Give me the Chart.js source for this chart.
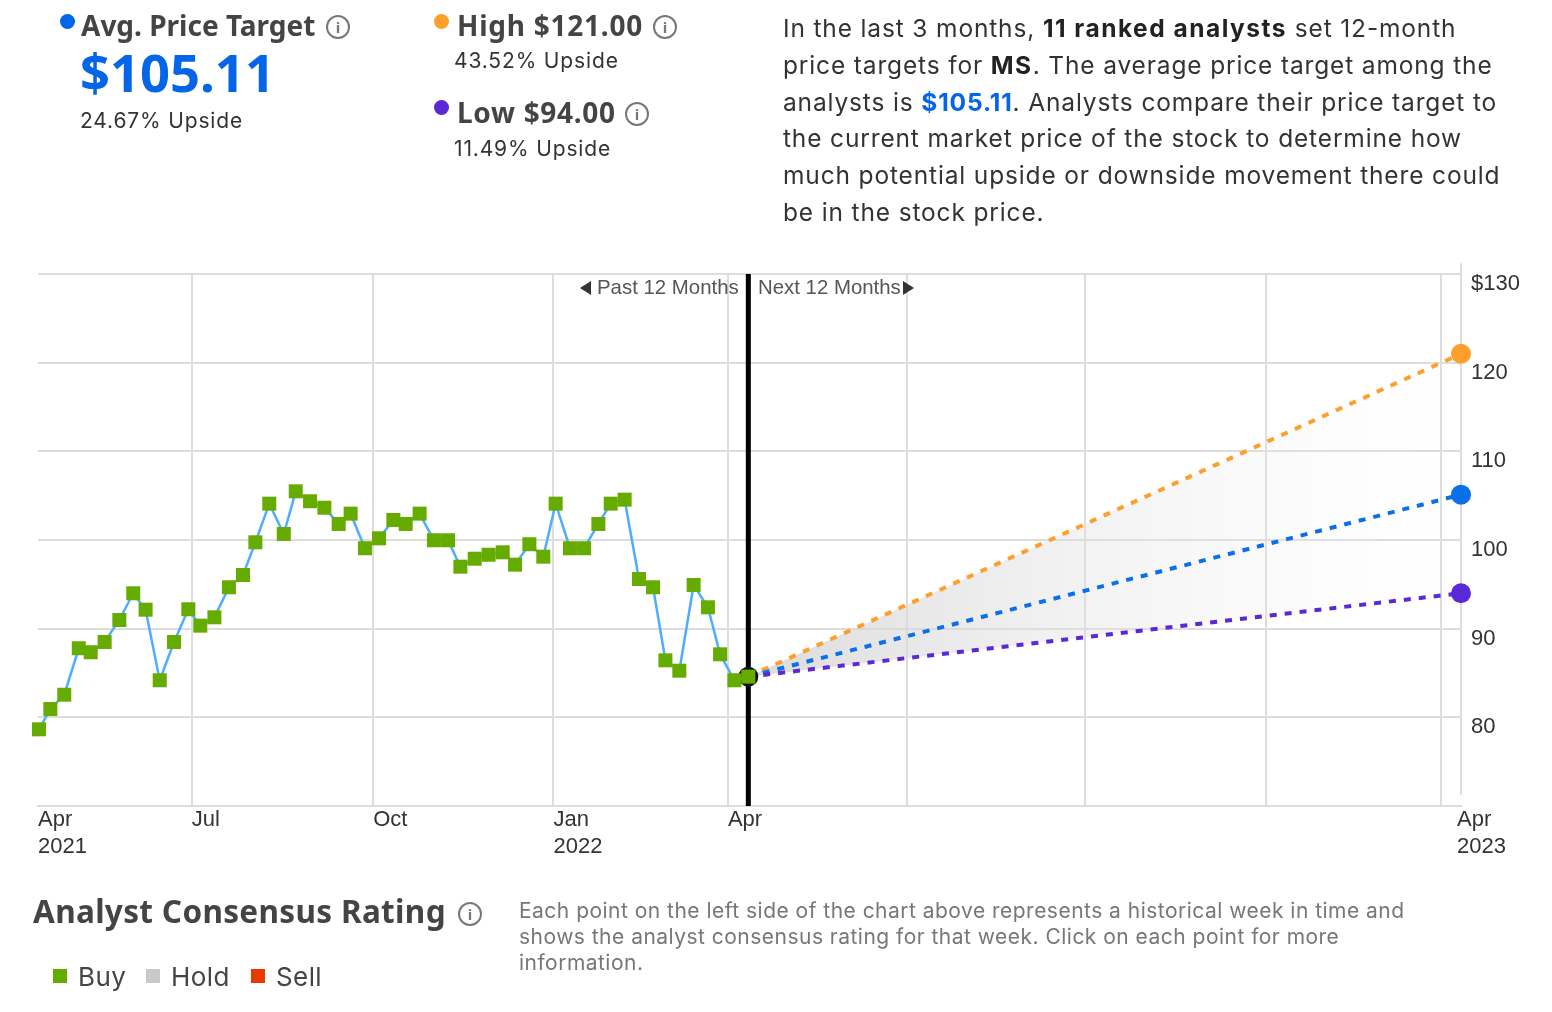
<!DOCTYPE html>
<html>
<head>
<meta charset="utf-8">
<title>MS price targets</title>
<script src="https://cdn.jsdelivr.net/npm/chart.js@4"></script>
<style>
  html, body { margin: 0; padding: 0; background: #fff; }
  #page { position: relative; width: 1552px; height: 1012px; overflow: hidden; font-family: Inter, sans-serif; color: #333; }
  #page canvas { position: absolute; left: 0; top: 0; }
  .txt { position: absolute; white-space: nowrap; }
  .head { font-family: "Noto Sans", sans-serif; font-weight: 700; font-size: 28px; color: #444; line-height: 32px; }
  .sub { font-size: 21px; line-height: 26px; color: #333; letter-spacing: .85px; }
  .dot { position: absolute; width: 15px; height: 15px; border-radius: 50%; }
  .info { position: absolute; width: 20px; height: 20px; border: 2px solid #777; border-radius: 50%; color: #777; font: 700 15px/20px "Noto Sans", sans-serif; text-align: center; }
  .swatch { position: absolute; width: 14px; height: 14px; }
  .chartnote { font-family: "Liberation Sans", sans-serif; font-size: 20.4px; color: #555; line-height: 24px; }
  .tri { position: absolute; width: 0; height: 0; border-top: 7px solid transparent; border-bottom: 7px solid transparent; }
  .legend { font-size: 26px; line-height: 33px; color: #444; letter-spacing: .4px; }
  b.blue { color: #0465e8; }
  b.dark { color: #222; letter-spacing: 1.5px; }
</style>
</head>
<body>
<div id="page">
  <canvas id="price-chart" width="1552" height="1012"></canvas>

  <span class="dot" style="left:60px;top:14px;background:#0465e8"></span>
  <div class="txt head" style="left:81px;top:9px">Avg. Price Target</div>
  <span class="info" style="left:326px;top:15px">i</span>
  <div class="txt" style="left:80px;top:44px;font-family:'Noto Sans',sans-serif;font-weight:700;font-size:52.5px;line-height:56px;color:#0465e8">$105.11</div>
  <div class="txt sub" style="left:80px;top:108px">24.67% Upside</div>

  <span class="dot" style="left:434px;top:14px;background:#ff9f2b"></span>
  <div class="txt head" style="left:457px;top:9px;letter-spacing:.75px">High $121.00</div>
  <span class="info" style="left:653px;top:15px">i</span>
  <div class="txt sub" style="left:454px;top:48px">43.52% Upside</div>

  <span class="dot" style="left:434px;top:100px;background:#5a28d6"></span>
  <div class="txt head" style="left:457px;top:96px;letter-spacing:.7px">Low $94.00</div>
  <span class="info" style="left:625px;top:102px">i</span>
  <div class="txt sub" style="left:454px;top:136px">11.49% Upside</div>

  <div class="txt" style="left:783px;top:10px;font-size:24.5px;line-height:36.8px;color:#333;letter-spacing:.85px">
    In the last 3 months, <b class="dark">11 ranked analysts</b> set 12-month<br>
    price targets for <b class="dark">MS</b>. The average price target among the<br>
    analysts is <b class="blue">$105.11</b>. Analysts compare their price target to<br>
    the current market price of the stock to determine how<br>
    much potential upside or downside movement there could<br>
    be in the stock price.
  </div>

  <span class="tri" style="left:580px;top:281px;border-right:11px solid #333"></span>
  <div class="txt chartnote" style="left:597px;top:275px">Past 12 Months</div>
  <div class="txt chartnote" style="left:758px;top:275px">Next 12 Months</div>
  <span class="tri" style="left:903px;top:281px;border-left:11px solid #333"></span>

  <div class="txt" style="left:33px;top:892px;font-family:'Noto Sans',sans-serif;font-weight:700;font-size:31.5px;line-height:38px;color:#444;letter-spacing:.33px">Analyst Consensus Rating</div>
  <span class="info" style="left:458px;top:902px">i</span>
  <div class="txt" style="left:519px;top:898px;font-size:21px;line-height:26px;color:#777;letter-spacing:.48px">
    Each point on the left side of the chart above represents a historical week in time and<br>
    shows the analyst consensus rating for that week. Click on each point for more<br>
    information.
  </div>

  <span class="swatch" style="left:53px;top:969px;background:#65ab00"></span>
  <div class="txt legend" style="left:78px;top:960px">Buy</div>
  <span class="swatch" style="left:146px;top:969px;background:#c8c8c8"></span>
  <div class="txt legend" style="left:171px;top:960px">Hold</div>
  <span class="swatch" style="left:251px;top:969px;background:#e63a00"></span>
  <div class="txt legend" style="left:276px;top:960px">Sell</div>
</div>

<script>
// weekly consensus price, days counted from the left edge of the axis
const historyDays = [0.5, 6.3, 13.4, 20.8, 26.9, 34.0, 41.5, 48.6, 54.9, 62.1, 69.4, 76.7, 82.8, 90.0, 97.4, 104.6, 110.9, 118.0, 125.4, 131.5, 138.8, 146.1, 153.4, 159.5, 166.8, 174.0, 181.3, 187.6, 194.7, 202.0, 209.2, 215.5, 222.8, 229.9, 237.1, 243.4, 250.7, 257.8, 264.1, 271.4, 278.6, 285.9, 292.2, 299.3, 306.6, 313.8, 320.1, 327.2, 334.5, 341.8, 348.0, 355.3, 362.4];
const historyPrices = [78.65, 80.94, 82.55, 87.79, 87.34, 88.5, 90.98, 93.99, 92.14, 84.18, 88.5, 92.19, 90.34, 91.28, 94.67, 96.05, 99.74, 104.1, 100.68, 105.49, 104.37, 103.64, 101.81, 102.97, 99.07, 100.19, 102.26, 101.81, 102.97, 99.97, 99.97, 96.99, 97.89, 98.34, 98.61, 97.22, 99.52, 98.12, 104.1, 99.07, 99.07, 101.81, 104.1, 104.55, 95.6, 94.67, 86.43, 85.26, 94.93, 92.41, 87.11, 84.18, 84.59];

const nowDay = 362.4;
const endDay = 726;
const currentPrice = 84.59;
const highTarget = 121;
const avgTarget = 105.11;
const lowTarget = 94;

const priceTicks = [70, 80, 90, 100, 110, 120, 130];
const monthTickDays = [0, 78.5, 171, 263, 352, 443.5, 534, 626.5, 716, 724];
const monthTickLabels = [['Apr', '2021'], ['Jul'], ['Oct'], ['Jan', '2022'], ['Apr'], '', '', '', '', ['Apr', '2023']];

function target(price) {
  return [{ x: nowDay, y: currentPrice }, { x: endDay, y: price }];
}

const ctx = document.getElementById('price-chart').getContext('2d');

const fanFill = (context) => {
  const area = context.chart.chartArea;
  if (!area) return 'rgba(0,0,0,0)';
  const xs = context.chart.scales.x;
  const g = context.chart.ctx.createLinearGradient(xs.getPixelForValue(nowDay), 0, xs.getPixelForValue(endDay) - 20, 0);
  g.addColorStop(0, 'rgba(210,210,210,0.8)');
  g.addColorStop(1, 'rgba(240,240,240,0)');
  return g;
};

const targetLine = (label, price, color) => ({
  label,
  data: target(price),
  borderColor: color,
  backgroundColor: color,
  borderWidth: 4,
  borderDash: [7, 8],
  pointRadius: [0, 10],
  pointHoverRadius: [0, 10],
  pointBorderWidth: 0,
  clip: false,
  order: 2,
});

new Chart(ctx, {
  type: 'line',
  data: {
    datasets: [
      targetLine('Low', lowTarget, '#5a28d6'),
      {
        ...targetLine('High', highTarget, '#ff9f2b'),
        fill: { target: 0 },
        backgroundColor: fanFill,
        pointBackgroundColor: '#ff9f2b',
        order: 3,
      },
      targetLine('Average', avgTarget, '#0a6fe8'),
      {
        label: 'Now',
        data: [{ x: nowDay, y: 70 }, { x: nowDay, y: 130 }],
        borderColor: '#000',
        borderWidth: 5,
        pointRadius: 0,
        order: 1,
      },
      {
        label: 'Edge',
        data: [{ x: endDay, y: 71.2 }, { x: endDay, y: 131.2 }],
        borderColor: '#ddd',
        borderWidth: 2,
        pointRadius: 0,
        clip: false,
        order: 5,
      },
      {
        label: 'NowDot',
        data: [{ x: nowDay, y: currentPrice }],
        pointRadius: 10,
        pointBackgroundColor: '#111',
        pointBorderWidth: 0,
        showLine: false,
        order: 0.5,
      },
      {
        label: 'Consensus',
        data: historyDays.map((d, i) => ({ x: d, y: historyPrices[i] })),
        borderColor: '#4fadff',
        borderWidth: 2.5,
        pointStyle: 'rect',
        pointRadius: 9.9,
        pointHoverRadius: 9.9,
        pointBackgroundColor: '#65ab00',
        pointBorderWidth: 0,
        clip: false,
        order: 0,
      },
    ],
  },
  options: {
    responsive: false,
    animation: false,
    events: [],
    layout: { padding: { left: 38, top: 274, right: 0, bottom: 0 } },
    plugins: { legend: { display: false }, tooltip: { enabled: false } },
    scales: {
      x: {
        type: 'linear',
        min: 0,
        max: endDay,
        afterBuildTicks: (axis) => { axis.ticks = monthTickDays.map((v) => ({ value: v })); },
        afterFit: (axis) => { axis.height = 206; },
        grid: {
          color: (c) => (c.index === 0 || c.index === 9 ? 'rgba(0,0,0,0)' : '#ddd'),
          lineWidth: 2,
          drawTicks: false,
        },
        border: { color: '#ddd', width: 2 },
        ticks: {
          autoSkip: false,
          maxRotation: 0,
          align: 'start',
          padding: 1,
          color: '#333',
          font: { family: 'Liberation Sans', size: 22 },
          callback: (v, i) => monthTickLabels[i],
        },
      },
      y: {
        position: 'right',
        min: 70,
        max: 130,
        afterBuildTicks: (axis) => { axis.ticks = priceTicks.map((v) => ({ value: v })); },
        afterFit: (axis) => { axis.width = 91; },
        grid: { color: '#ddd', lineWidth: 2, drawTicks: false },
        border: { display: false },
        ticks: {
          padding: 10,
          labelOffset: 10,
          color: '#333',
          font: { family: 'Liberation Sans', size: 22 },
          callback: (v) => (v === 70 ? '' : v === 130 ? '$130' : String(v)),
        },
      },
    },
  },
});
</script>
</body>
</html>
